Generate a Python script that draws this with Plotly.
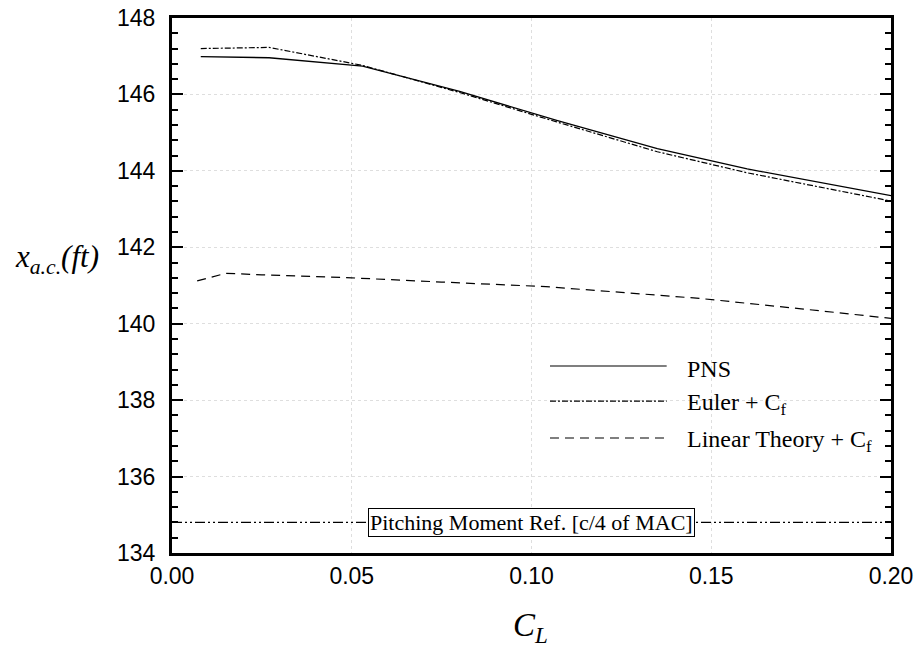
import plotly.graph_objects as go

# Aerodynamic-centre location vs lift coefficient
cl_pns = [0.008, 0.027, 0.053, 0.080, 0.107, 0.135, 0.160, 0.200]
xac_pns = [146.99, 146.96, 146.74, 146.08, 145.32, 144.58, 144.05, 143.35]

cl_euler = [0.008, 0.027, 0.053, 0.080, 0.107, 0.135, 0.160, 0.200]
xac_euler = [147.20, 147.23, 146.76, 146.05, 145.28, 144.50, 143.95, 143.21]

cl_linear = [0.007, 0.015, 0.025, 0.050, 0.075, 0.104, 0.125, 0.147, 0.175, 0.200]
xac_linear = [141.12, 141.32, 141.28, 141.20, 141.09, 140.97, 140.82, 140.66, 140.39, 140.14]

cl_ref = [0.0, 0.2]
xac_ref = [134.8, 134.8]
ref_label = "Pitching Moment Ref. [c/4 of MAC]"

legend_names = ["PNS", "Euler + C<sub>f</sub>", "Linear Theory + C<sub>f</sub>"]
legend_dashes = ["solid", "6px,2px,2px,2px", "9px,6px"]

SERIF = "Liberation Serif, Times New Roman, serif"
SANS = "Liberation Sans, Arial, Helvetica, sans-serif"
GRID = "#dedede"

fig = go.Figure()
fig.add_trace(go.Scatter(x=cl_pns, y=xac_pns, mode="lines",
                         line=dict(color="black", width=1.3, dash=legend_dashes[0])))
fig.add_trace(go.Scatter(x=cl_euler, y=xac_euler, mode="lines",
                         line=dict(color="black", width=1.2, dash=legend_dashes[1])))
fig.add_trace(go.Scatter(x=cl_linear, y=xac_linear, mode="lines",
                         line=dict(color="black", width=1.2, dash=legend_dashes[2])))
fig.add_trace(go.Scatter(x=cl_ref, y=xac_ref, mode="lines",
                         line=dict(color="black", width=1.2,
                                   dash="10px,3px,2px,3px,2px,3px")))

# reference label box on the pitching-moment line
fig.add_annotation(x=0.5 * (cl_ref[0] + cl_ref[1]), y=xac_ref[0], xref="x", yref="y",
                   text=ref_label, showarrow=False,
                   font=dict(family=SERIF, size=22, color="black"),
                   bgcolor="white", bordercolor="black", borderwidth=1, borderpad=1)

# hand-built legend (long line samples)
leg_line_y = [0.3495, 0.284, 0.215]
for name, dash, ly in zip(legend_names, legend_dashes, leg_line_y):
    fig.add_shape(type="line", xref="paper", yref="paper",
                  x0=0.5257, x1=0.688, y0=ly, y1=ly,
                  line=dict(color="black", width=1.2, dash=dash))
    fig.add_annotation(x=0.7135, y=ly - 0.006, xref="paper", yref="paper",
                       xanchor="left", yanchor="middle", text=name, showarrow=False,
                       font=dict(family=SERIF, size=24, color="black"))

# axis titles
fig.add_annotation(x=-0.16, y=0.55, xref="paper", yref="paper",
                   xanchor="center", yanchor="middle",
                   text="<i>x<sub>a.c.</sub>(ft)</i>", showarrow=False,
                   font=dict(family=SERIF, size=31, color="black"))
fig.add_annotation(x=0.498, y=-0.14, xref="paper", yref="paper",
                   xanchor="center", yanchor="middle",
                   text="<i>C<sub>L</sub></i>", showarrow=False,
                   font=dict(family=SERIF, size=33, color="black"))

fig.update_layout(
    width=919, height=652,
    margin=dict(l=172, r=28, t=18, b=99),
    plot_bgcolor="white", paper_bgcolor="white",
    showlegend=False,
    font=dict(family=SANS, size=23, color="black"),
)
fig.update_xaxes(range=[0, 0.2], dtick=0.05, tickformat=".2f", automargin=False,
                 showline=True, linecolor="black", linewidth=3, mirror=True,
                 ticks="", showgrid=True, gridcolor=GRID, griddash="dot",
                 gridwidth=1, zeroline=False, tickfont=dict(family=SANS, size=23))
fig.update_yaxes(range=[134, 148], dtick=2, automargin=False,
                 showline=True, linecolor="black", linewidth=3, mirror="ticks",
                 ticks="inside", ticklen=11, tickwidth=2, tickcolor="black",
                 minor=dict(dtick=0.4, ticks="inside", ticklen=6, tickwidth=1.5,
                            tickcolor="black", showgrid=False),
                 showgrid=True, gridcolor=GRID, griddash="dot", gridwidth=1,
                 zeroline=False, ticklabelstandoff=9,
                 tickfont=dict(family=SANS, size=23))

fig.write_html("out.html")
